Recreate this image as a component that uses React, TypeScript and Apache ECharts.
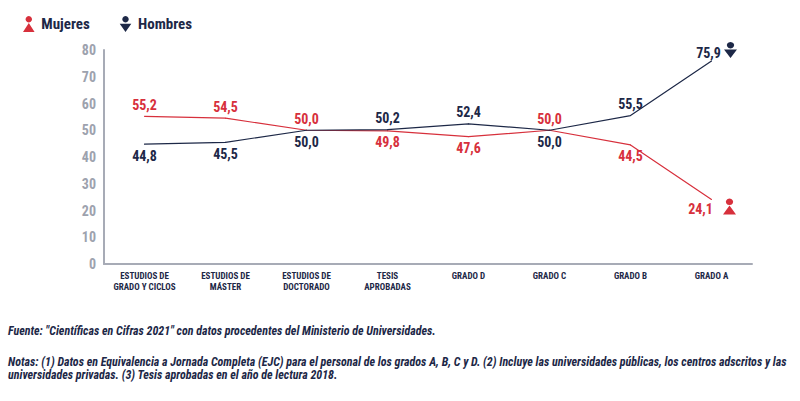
import React, { useEffect, useRef } from "react";
import * as echarts from "echarts";

const categories = [
  "ESTUDIOS DE\nGRADO Y CICLOS",
  "ESTUDIOS DE\nMÁSTER",
  "ESTUDIOS DE\nDOCTORADO",
  "TESIS\nAPROBADAS",
  "GRADO D",
  "GRADO C",
  "GRADO B",
  "GRADO A",
];
const mujeres = [55.2, 54.5, 50.0, 49.8, 47.6, 50.0, 44.5, 24.1];
const hombres = [44.8, 45.5, 50.0, 50.2, 52.4, 50.0, 55.5, 75.9];
const mujeresLabelPos = ["top", "top", "top", "bottom", "bottom", "top", "bottom", "end"];
const hombresLabelPos = ["bottom", "bottom", "bottom", "top", "top", "bottom", "top", "end"];
const yTicks = { min: 0, max: 80, interval: 10 };

const fuente = 'Fuente: "Científicas en Cifras 2021" con datos procedentes del Ministerio de Universidades.';
const notas1 =
  "Notas: (1) Datos en Equivalencia a Jornada Completa (EJC) para el personal de los grados A, B, C y D. (2) Incluye las universidades públicas, los centros adscritos y las";
const notas2 = "universidades privadas. (3) Tesis aprobadas en el año de lectura 2018.";

const RED = "#d7303c";
const NAVY = "#1d2847";
const GRAY = "#a7abb6";
const FONT = "'Liberation Sans Narrow', 'Roboto Condensed', 'DejaVu Sans Condensed', 'Arial Narrow', 'Liberation Sans', sans-serif";

const FEMALE_ICON = "path://M5,0.2A2.8,2.8 0 1 1 4.99,0.2Z M5,6.2 L10,14 L0,14Z";
const MALE_ICON = "path://M5,0.2A2.8,2.8 0 1 1 4.99,0.2Z M0,6.8 L10,6.8 L5,14Z";

const fmt = (v: number) => v.toFixed(1).replace(".", ",");

function buildData(values: number[], positions: string[], lastOffset: number[]) {
  return values.map((v, i) => {
    const pos = positions[i];
    if (pos === "end") {
      return { value: v, label: { position: "inside", offset: lastOffset } };
    }
    return { value: v, label: { position: pos } };
  });
}

export default function App() {
  const ref = useRef<HTMLDivElement>(null);
  useEffect(() => {
    document.body.style.margin = "0";
    if (!ref.current) return;
    const chart = echarts.init(ref.current, null, { renderer: "svg" });
    const labelBase = {
      show: true,
      fontFamily: FONT,
      fontWeight: "bold",
      fontSize: 14,
      distance: 4,
      formatter: (p: any) => fmt(p.value),
    };
    chart.setOption({
      animation: false,
      backgroundColor: "#ffffff",
      textStyle: { fontFamily: FONT },
      legend: {
        left: 18,
        top: 11,
        itemWidth: 13,
        itemHeight: 16,
        itemGap: 30,
        textStyle: { fontFamily: FONT, fontWeight: "bold", fontSize: 15, color: NAVY, padding: [0, 0, 0, 1] },
        data: [
          { name: "Mujeres", icon: FEMALE_ICON },
          { name: "Hombres", icon: MALE_ICON },
        ],
      },
      grid: { left: 104, right: 48, top: 50, bottom: 137, containLabel: false },
      xAxis: {
        type: "category",
        data: categories,
        boundaryGap: true,
        axisLine: { lineStyle: { color: GRAY, width: 2 } },
        axisTick: { show: false },
        axisLabel: {
          interval: 0,
          fontFamily: FONT,
          fontWeight: "bold",
          fontSize: 9,
          lineHeight: 11,
          color: NAVY,
          margin: 6,
        },
      },
      yAxis: {
        type: "value",
        min: yTicks.min,
        max: yTicks.max,
        interval: yTicks.interval,
        axisLine: { show: true, lineStyle: { color: GRAY, width: 2 } },
        axisTick: { show: false },
        splitLine: { show: false },
        axisLabel: {
          fontFamily: FONT,
          fontWeight: "bold",
          fontSize: 14,
          color: "#9da2ae",
          margin: 8,
        },
      },
      series: [
        {
          name: "Mujeres",
          type: "line",
          data: buildData(mujeres, mujeresLabelPos, [-11, 9]),
          color: RED,
          lineStyle: { color: RED, width: 1.2 },
          symbol: "circle",
          symbolSize: 1,
          showSymbol: true,
          label: { ...labelBase, color: RED },
          markPoint: {
            symbol: FEMALE_ICON,
            symbolSize: [13, 16],
            symbolOffset: [18, 7],
            itemStyle: { color: RED },
            label: { show: false },
            data: [{ coord: [categories.length - 1, mujeres[mujeres.length - 1]] }],
          },
        },
        {
          name: "Hombres",
          type: "line",
          data: buildData(hombres, hombresLabelPos, [-3, -8]),
          color: NAVY,
          lineStyle: { color: NAVY, width: 1.2 },
          symbol: "circle",
          symbolSize: 1,
          showSymbol: true,
          label: { ...labelBase, color: NAVY },
          markPoint: {
            symbol: MALE_ICON,
            symbolSize: [13, 16],
            symbolOffset: [19, -11],
            itemStyle: { color: NAVY },
            label: { show: false },
            data: [{ coord: [categories.length - 1, hombres[hombres.length - 1]] }],
          },
        },
      ],
      graphic: [
        {
          type: "text",
          left: 8,
          top: 325,
          style: { text: fuente, font: `italic bold 12px ${FONT}`, fill: NAVY },
        },
        {
          type: "text",
          left: 8,
          top: 355,
          style: { text: notas1 + "\n" + notas2, font: `italic bold 12px ${FONT}`, fill: NAVY, lineHeight: 13 },
        },
      ],
    });
    return () => chart.dispose();
  }, []);
  return <div ref={ref} style={{ width: 800, height: 401 }} />;
}
